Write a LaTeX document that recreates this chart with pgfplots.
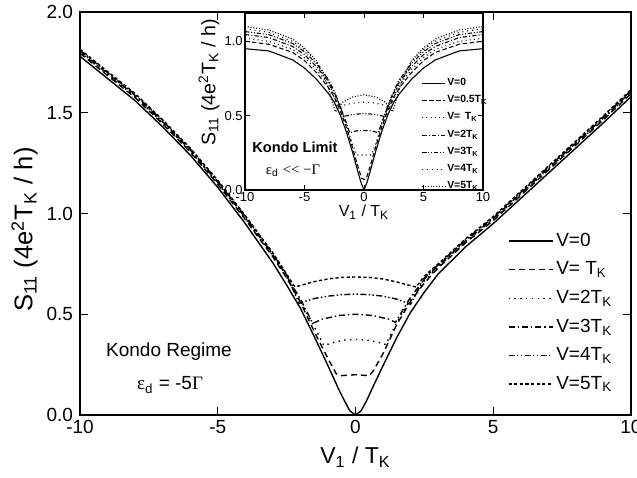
\documentclass[border=0pt]{standalone}
\usepackage{fontspec}
\setmainfont{Liberation Sans}
\newfontfamily\sym{Liberation Serif}
\usepackage{pgfplots}
\pgfplotsset{compat=1.18}

\tikzset{
  c0/.style={black, line width=0.7pt, solid},
  c1/.style={black, line width=0.7pt, dash pattern=on 3pt off 2pt},
  c2/.style={black, line width=0.7pt, dash pattern=on 0.7pt off 2.2pt},
  c3/.style={black, line width=0.7pt, dash pattern=on 3pt off 1.5pt on 0.7pt off 1.5pt},
  c4/.style={black, line width=0.7pt, dash pattern=on 3pt off 1.2pt on 0.7pt off 1.2pt on 0.7pt off 1.2pt},
  c5/.style={black, line width=0.7pt, dash pattern=on 1.6pt off 1.2pt},
  i0/.style={black, line width=0.55pt, solid},
  i05/.style={black, line width=0.55pt, dash pattern=on 2.2pt off 1.3pt},
  i1/.style={black, line width=0.55pt, dash pattern=on 0.5pt off 1.6pt},
  i2/.style={black, line width=0.55pt, dash pattern=on 2.2pt off 1pt on 0.5pt off 1pt},
  i3/.style={black, line width=0.55pt, dash pattern=on 2.2pt off 0.9pt on 0.5pt off 0.9pt on 0.5pt off 0.9pt},
  i4/.style={black, line width=0.55pt, dash pattern=on 0.5pt off 1.9pt},
  i5/.style={black, line width=0.55pt, dash pattern=on 0.5pt off 0.9pt},
}

\begin{document}
\begin{tikzpicture}
\useasboundingbox (0,0) rectangle (318.5pt,238.5pt);

% main panel
\begin{axis}[
    at={(40pt,31pt)}, anchor=south west,
    scale only axis, width=275.5pt, height=201.5pt,
    xmin=-10, xmax=10, ymin=0, ymax=2,
    xtick={-10,-5,0,5,10}, xticklabels={-10,-5,0,5,10},
    ytick={0,0.5,1,1.5,2}, yticklabels={0.0,0.5,1.0,1.5,2.0},
    tick align=inside, major tick length=4pt,
    axis line style={line width=0.8pt},
    tick style={line width=0.7pt, black},
    ticklabel style={font=\fontsize{9.5}{11}\selectfont},
    xticklabel style={yshift=1pt},
    xlabel style={font=\fontsize{11.5}{13}\selectfont},
    every axis y label/.style={at={(ticklabel cs:0.46)}, rotate=90, anchor=near ticklabel,
      font=\fontsize{12.8}{14}\selectfont, yshift=-2.5pt},
    xlabel={V\textsubscript{1} / T\textsubscript{K}},
    ylabel={S\textsubscript{11} (4e\textsuperscript{2}T\textsubscript{K} / h)},
    legend image code/.code={\draw[#1] (0pt,0pt) -- (22pt,0pt);},
    legend style={draw=none, fill=none, at={(0.765,0.47)}, anchor=north west,
      font=\fontsize{9.5}{11}\selectfont, row sep=3.2pt,
      nodes={inner sep=1.5pt}},
    legend cell align=left,
]
\addplot[c0] coordinates {(-10,1.78) (-9,1.67) (-8,1.56) (-7,1.43) (-6,1.29) (-5,1.13) (-4,0.95) (-3,0.755) (-2.5,0.645) (-2,0.53) (-1.5,0.39) (-1,0.245) (-0.6,0.125) (-0.4,0.07) (-0.2,0.02) (0,0) (0.2,0.02) (0.4,0.07) (0.6,0.13) (1,0.245) (1.5,0.385) (2,0.51) (2.5,0.61) (3,0.70) (4,0.835) (5,0.95) (6,1.075) (7,1.20) (8,1.325) (9,1.45) (10,1.58)};
\addlegendentry{V=0}
\addplot[c1] coordinates {(-10,1.795) (-9,1.685) (-8,1.575) (-7,1.445) (-6,1.305) (-5,1.145) (-4,0.97) (-3,0.785) (-2.5,0.68) (-2,0.56) (-1.5,0.415) (-1,0.28) (-0.7,0.205) (-0.55,0.195) (0,0.2) (0.5,0.195) (0.65,0.22) (1,0.305) (1.5,0.45) (2,0.565) (2.5,0.655) (3,0.73) (4,0.855) (5,0.965) (6,1.09) (7,1.215) (8,1.34) (9,1.465) (10,1.595)};
\addlegendentry{V= T\textsubscript{K}}
\addplot[c2] coordinates {(-10,1.80) (-9,1.69) (-8,1.58) (-7,1.45) (-6,1.31) (-5,1.15) (-4,0.975) (-3,0.79) (-2.5,0.685) (-2,0.565) (-1.5,0.44) (-1.15,0.345) (-0.8,0.36) (-0.4,0.372) (0,0.375) (0.4,0.372) (0.8,0.362) (1.1,0.35) (1.5,0.46) (2,0.575) (2.5,0.665) (3,0.735) (4,0.86) (5,0.97) (6,1.095) (7,1.22) (8,1.345) (9,1.47) (10,1.60)};
\addlegendentry{V=2T\textsubscript{K}}
\addplot[c3] coordinates {(-10,1.805) (-9,1.695) (-8,1.585) (-7,1.455) (-6,1.315) (-5,1.155) (-4,0.98) (-3,0.795) (-2.5,0.69) (-2,0.575) (-1.55,0.455) (-1.2,0.476) (-0.6,0.494) (0,0.50) (0.6,0.494) (1.2,0.476) (1.45,0.46) (2,0.585) (2.5,0.675) (3,0.74) (4,0.865) (5,0.975) (6,1.10) (7,1.225) (8,1.35) (9,1.475) (10,1.605)};
\addlegendentry{V=3T\textsubscript{K}}
\addplot[c4] coordinates {(-10,1.81) (-9,1.70) (-8,1.59) (-7,1.46) (-6,1.32) (-5,1.16) (-4,0.985) (-3,0.80) (-2.5,0.695) (-2.05,0.555) (-1.5,0.578) (-1,0.59) (-0.5,0.597) (0,0.60) (0.5,0.597) (1,0.59) (1.5,0.575) (2,0.55) (2.5,0.68) (3,0.745) (4,0.87) (5,0.98) (6,1.105) (7,1.23) (8,1.355) (9,1.48) (10,1.61)};
\addlegendentry{V=4T\textsubscript{K}}
\addplot[c5] coordinates {(-10,1.815) (-9,1.705) (-8,1.595) (-7,1.465) (-6,1.325) (-5,1.165) (-4,0.99) (-3,0.805) (-2.5,0.70) (-2.2,0.635) (-1.5,0.662) (-1,0.675) (-0.5,0.683) (0,0.685) (0.5,0.683) (1,0.675) (1.5,0.66) (2.2,0.635) (2.5,0.69) (3,0.75) (4,0.875) (5,0.985) (6,1.11) (7,1.235) (8,1.36) (9,1.485) (10,1.615)};
\addlegendentry{V=5T\textsubscript{K}}
\node[font=\fontsize{9.5}{11}\selectfont] at (axis cs:-6.77,0.313) {Kondo Regime};
\node[font=\fontsize{9.5}{11}\selectfont] at (axis cs:-6.73,0.149) {{\sym ε}\textsubscript{d} = -5{\sym Γ}};
\end{axis}

% inset panel
\begin{axis}[
    at={(122.5pt,143.5pt)}, anchor=south west,
    scale only axis, width=119pt, height=88.5pt,
    axis background/.style={fill=white},
    xmin=-10, xmax=10, ymin=0, ymax=1.19,
    xtick={-10,-5,0,5,10}, xticklabels={-10,-5,0,5,10},
    ytick={0,0.5,1}, yticklabels={0.0,0.5,1.0},
    tick align=inside, major tick length=2.5pt,
    axis line style={line width=0.6pt},
    tick style={line width=0.5pt, black},
    ticklabel style={font=\fontsize{6.5}{7.5}\selectfont, inner sep=1pt},
    xlabel style={font=\fontsize{8}{9}\selectfont, yshift=3pt},
    every axis y label/.style={at={(ticklabel cs:0.61)}, rotate=90, anchor=near ticklabel,
      font=\fontsize{9.8}{11}\selectfont, yshift=-2pt},
    xlabel={V\textsubscript{1} / T\textsubscript{K}},
    ylabel={S\textsubscript{11} (4e\textsuperscript{2}T\textsubscript{K} / h)},
    legend image code/.code={\draw[#1] (0pt,0pt) -- (11.5pt,0pt);},
    legend style={draw=none, fill=none, at={(0.715,0.665)}, anchor=north west,
      font=\fontsize{5.2}{6}\selectfont\bfseries, row sep=1.9pt,
      nodes={inner sep=0.8pt}},
    legend cell align=left,
]
\addplot[i0] coordinates {(-10,0.95) (-8,0.935) (-6,0.875) (-5,0.82) (-4,0.745) (-3,0.65) (-2.5,0.59) (-2,0.505) (-1.5,0.395) (-1,0.265) (-0.5,0.12) (-0.25,0.05) (0,0) (0.25,0.05) (0.5,0.12) (1,0.265) (1.5,0.395) (2,0.505) (2.5,0.59) (3,0.65) (4,0.745) (5,0.82) (6,0.875) (8,0.935) (10,0.95)};
\addlegendentry{V=0}
\addplot[i05] coordinates {(-10,1.0) (-8,0.98) (-6,0.925) (-5,0.87) (-4,0.79) (-3,0.69) (-2.5,0.625) (-2,0.535) (-1.5,0.425) (-1,0.295) (-0.5,0.155) (-0.2,0.08) (0,0.07) (0.2,0.08) (0.5,0.155) (1,0.295) (1.5,0.425) (2,0.535) (2.5,0.625) (3,0.69) (4,0.79) (5,0.87) (6,0.925) (8,0.98) (10,1.0)};
\addlegendentry{V=0.5T\textsubscript{K}}
\addplot[i1] coordinates {(-10,1.02) (-8,1.0) (-6,0.945) (-5,0.89) (-4,0.81) (-3,0.71) (-2.5,0.645) (-2,0.555) (-1.5,0.445) (-1,0.315) (-0.6,0.235) (-0.3,0.235) (0,0.235) (0.3,0.235) (0.6,0.235) (1,0.315) (1.5,0.445) (2,0.555) (2.5,0.645) (3,0.71) (4,0.81) (5,0.89) (6,0.945) (8,1.0) (10,1.02)};
\addlegendentry{V=\ \,T\textsubscript{K}}
\addplot[i2] coordinates {(-10,1.045) (-8,1.025) (-6,0.965) (-5,0.91) (-4,0.83) (-3,0.73) (-2.5,0.655) (-2,0.56) (-1.5,0.455) (-1.2,0.385) (-0.6,0.398) (0,0.40) (0.6,0.398) (1.2,0.385) (1.5,0.455) (2,0.56) (2.5,0.655) (3,0.73) (4,0.83) (5,0.91) (6,0.965) (8,1.025) (10,1.045)};
\addlegendentry{V=2T\textsubscript{K}}
\addplot[i3] coordinates {(-10,1.065) (-8,1.045) (-6,0.985) (-5,0.93) (-4,0.85) (-3,0.745) (-2.5,0.665) (-2,0.565) (-1.7,0.495) (-1,0.507) (0,0.515) (1,0.507) (1.7,0.495) (2,0.565) (2.5,0.665) (3,0.745) (4,0.85) (5,0.93) (6,0.985) (8,1.045) (10,1.065)};
\addlegendentry{V=3T\textsubscript{K}}
\addplot[i4] coordinates {(-10,1.085) (-8,1.06) (-6,1.0) (-5,0.945) (-4,0.865) (-3,0.74) (-2.6,0.64) (-2.25,0.555) (-1.5,0.575) (-0.8,0.585) (0,0.59) (0.8,0.585) (1.5,0.575) (2.25,0.555) (2.6,0.64) (3,0.74) (4,0.865) (5,0.945) (6,1.0) (8,1.06) (10,1.085)};
\addlegendentry{V=4T\textsubscript{K}}
\addplot[i5] coordinates {(-10,1.10) (-8,1.075) (-6,1.015) (-5,0.955) (-4,0.87) (-3.5,0.79) (-3,0.69) (-2.7,0.60) (-2.4,0.525) (-1.8,0.59) (-1,0.625) (0,0.64) (1,0.625) (1.8,0.59) (2.4,0.525) (2.7,0.60) (3,0.69) (3.5,0.79) (4,0.87) (5,0.955) (6,1.015) (8,1.075) (10,1.10)};
\addlegendentry{V=5T\textsubscript{K}}
\node[font=\fontsize{7.3}{8}\selectfont\bfseries] at (axis cs:-5.8,0.29) {Kondo Limit};
\node[font=\fontsize{7.3}{8}\selectfont] at (axis cs:-5.97,0.128) {{\sym ε}\textsubscript{d} {\sym <<} {\sym −Γ}};
\end{axis}
\end{tikzpicture}
\end{document}
